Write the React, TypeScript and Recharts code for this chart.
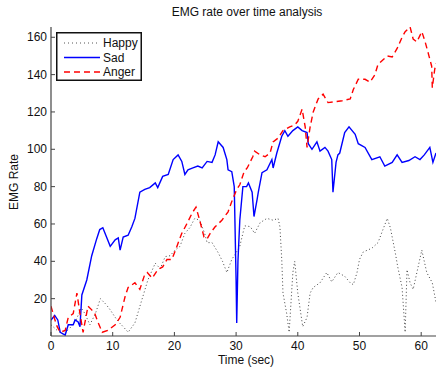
import { LineChart, Line, XAxis, YAxis } from "recharts";

// Sad (blue solid)
const sadTime = [0, 0.6, 1.1, 1.5, 2.3, 2.8, 3.6, 3.9, 4.4, 4.7, 5.0, 5.8, 6.6, 7.4, 7.9, 8.4, 9.0, 9.6, 10.4, 10.9, 11.2, 11.7, 12.5, 13.1, 13.6, 14.4, 15.2, 16.0, 16.9, 17.3, 18.1, 19.0, 19.8, 20.6, 21.2, 21.7, 22.2, 23.0, 23.8, 24.5, 25.3, 26.1, 26.6, 27.1, 27.9, 28.5, 28.7, 29.3, 29.7, 30.0, 30.1, 30.3, 30.6, 31.1, 31.7, 32.0, 32.6, 32.9, 33.4, 33.6, 34.2, 35.0, 35.8, 36.0, 36.6, 37.4, 37.9, 38.4, 39.2, 40.0, 40.7, 41.5, 41.7, 42.3, 43.1, 43.6, 44.4, 44.9, 45.5, 45.7, 46.2, 46.5, 46.8, 47.6, 48.3, 49.3, 49.8, 50.9, 52.0, 53.3, 54.1, 55.3, 56.1, 56.9, 58.0, 59.0, 59.8, 60.5, 61.4, 61.9, 62.4];
const sadValues = [8.5, 11, 8.6, 2, 0.5, 6, 6, 8.6, 7.5, 5, 22, 30, 43, 52, 57, 58, 53, 48, 51.5, 52.5, 46, 53, 54, 58.5, 63, 77, 78.5, 79.5, 82, 79.5, 85.5, 86.5, 94.5, 97, 93.5, 86.5, 89, 90, 91, 90, 93.5, 93, 97, 104, 101, 94.5, 89, 88, 80, 30, 7, 40, 62, 80, 80, 82, 77, 64, 73, 77, 87.5, 89, 94.5, 90, 98, 107, 110, 107, 110, 112, 110, 109, 103, 100, 104, 99, 101, 99, 94.5, 77, 93, 97, 98, 109, 112, 108, 103, 101, 94.5, 96, 91, 93, 97, 93, 94, 96, 94.5, 97, 101, 93, 98];

// Happy (dotted)
const happyTime = [0, 1, 2, 3, 4, 4.9, 5.5, 6.3, 7.2, 8.0, 8.9, 9.6, 10.4, 11.1, 11.7, 12.5, 13.6, 14.6, 15.7, 16.9, 17.7, 18.5, 19.3, 20.1, 20.9, 21.7, 22.5, 23.3, 24.1, 24.9, 25.3, 26.1, 27.1, 27.8, 28.5, 29.3, 29.8, 30.6, 31.1, 31.4, 32.3, 33.0, 33.9, 35.0, 36.0, 36.8, 37.1, 37.4, 37.6, 38.2, 38.6, 39.2, 39.5, 40.0, 40.8, 41.5, 42.0, 42.5, 43.6, 44.7, 45.5, 46.5, 47.6, 48.5, 49.0, 49.6, 50.0, 50.6, 52.0, 53.0, 53.8, 54.5, 55.0, 55.8, 56.2, 56.9, 57.4, 57.7, 58.2, 58.7, 59.5, 60.1, 60.9, 61.8, 62.4];
const happyValues = [6, 3, 1, 4, 8, 15, 12, 6, 12, 20, 17, 14, 10, 7, 5, 2, 7, 18, 30, 39, 36, 42.5, 43, 46, 48, 55, 58, 63, 62, 55, 50, 50, 44.6, 40, 34, 41, 43.5, 48, 55, 59, 58.6, 55, 60.7, 63, 62, 63, 58.6, 41, 23, 12, 2, 34, 40, 23, 5, 10, 23, 26, 28.5, 34, 29, 34, 32, 28.5, 27.5, 34, 41, 45, 47, 50, 57, 63, 58, 44.6, 37, 26, 2, 35.5, 28.5, 25, 37, 46, 34, 28.5, 18];

// Anger (red dashed)
const angerTime = [0, 0.5, 1.0, 1.5, 2.3, 2.8, 3.6, 4.2, 4.7, 5.2, 6.0, 6.6, 7.1, 7.6, 8.3, 9.2, 10.4, 11.2, 12.0, 12.5, 13.6, 14.4, 15.2, 15.6, 16.4, 17.3, 18.1, 18.8, 19.6, 20.4, 21.2, 22.0, 22.9, 23.5, 24.1, 24.8, 25.3, 25.8, 26.6, 27.7, 28.7, 29.3, 30.1, 30.6, 31.3, 31.8, 32.7, 33.0, 33.9, 34.7, 35.5, 36.0, 36.8, 37.6, 38.7, 39.5, 40.0, 40.7, 41.2, 41.5, 42.0, 42.5, 43.3, 44.1, 44.9, 46.0, 47.2, 48.5, 49.0, 49.8, 50.9, 51.7, 52.5, 53.0, 54.5, 55.3, 56.1, 56.9, 57.4, 58.2, 58.7, 59.3, 60.1, 60.6, 61.1, 61.7, 61.8, 62.2, 62.4];
const angerValues = [16, 10, 5, 2, 3, 10, 12, 23, 12, 2, 16, 14, 12, 7.5, 2, 3, 6, 10, 21, 26, 28.5, 25, 33, 34, 31, 35.5, 37, 41, 41, 48, 55, 60, 66, 69, 62, 53, 52, 55, 58.5, 62, 66.5, 72, 78.5, 81, 88, 90, 96, 99, 97, 96, 98, 104, 106, 110, 112, 113, 115, 121.5, 112, 101, 112, 120, 127, 129.5, 125, 125.5, 126, 127, 132, 137.5, 137.5, 136, 140, 145.5, 150, 149.5, 154, 160, 163, 165.5, 159, 157.5, 163, 158, 152, 144.5, 133, 143, 146];

const xTicks = [0, 10, 20, 30, 40, 50, 60];
const yTicks = [20, 40, 60, 80, 100, 120, 140, 160];

const zip = (t: number[], v: number[]) => t.map((time, i) => ({ time, value: v[i] }));
const sadData = zip(sadTime, sadValues);
const happyData = zip(happyTime, happyValues);
const angerData = zip(angerTime, angerValues);

const FONT = "'Liberation Sans', Arial, sans-serif";

const YTick = ({ x, y, payload }: any) => (
    <g>
        <line x1={x} x2={x + 4} y1={y} y2={y} stroke="#444" />
        <text x={x - 4} y={y} dy={4} textAnchor="end" fontSize={12} fontFamily={FONT} fill="#111">
            {payload.value}
        </text>
    </g>
);

const XTick = ({ x, y, payload }: any) => (
    <g>
        <line x1={x} x2={x} y1={y} y2={y - 4} stroke="#444" />
        <text x={x} y={y} dy={14} textAnchor="middle" fontSize={12} fontFamily={FONT} fill="#111">
            {payload.value}
        </text>
    </g>
);

const legendItems = [
    { name: "Happy", color: "#555", dash: "1 3", width: 1 },
    { name: "Sad", color: "#0000ff", dash: undefined, width: 1.4 },
    { name: "Anger", color: "#ff0000", dash: "6 4", width: 1.4 },
];

export default function App() {
    return (
        <div style={{ position: "absolute", left: 0, top: 0, width: 436, height: 368, background: "#fff" }}>
            <LineChart width={436} height={368} margin={{ top: 27, right: 0, bottom: 0, left: 0 }}>
                <XAxis
                    dataKey="time"
                    type="number"
                    domain={[0, 62.4]}
                    ticks={xTicks}
                    height={32}
                    tickSize={0}
                    tickMargin={0}
                    tick={<XTick />}
                    tickLine={false}
                    axisLine={{ stroke: "#444", strokeWidth: 1.2 }}
                    allowDataOverflow
                />
                <YAxis
                    type="number"
                    domain={[0, 165.5]}
                    ticks={yTicks}
                    width={51}
                    tickSize={0}
                    tickMargin={0}
                    tick={<YTick />}
                    tickLine={false}
                    axisLine={{ stroke: "#444", strokeWidth: 1.2 }}
                    allowDataOverflow
                />
                <Line data={happyData} dataKey="value" name="Happy" stroke="#444" strokeWidth={1} strokeDasharray="1 2.5" dot={false} isAnimationActive={false} />
                <Line data={sadData} dataKey="value" name="Sad" stroke="#0000ff" strokeWidth={1.4} dot={false} isAnimationActive={false} />
                <Line data={angerData} dataKey="value" name="Anger" stroke="#ff0000" strokeWidth={1.4} strokeDasharray="6 4" dot={false} isAnimationActive={false} />
            </LineChart>
            <svg width={436} height={368} style={{ position: "absolute", left: 0, top: 0, pointerEvents: "none" }}>
                <text x={247} y={16} textAnchor="middle" fontSize={12} fontFamily={FONT} fill="#111">
                    EMG rate over time analysis
                </text>
                <text x={246} y={364} textAnchor="middle" fontSize={12} fontFamily={FONT} fill="#111">
                    Time (sec)
                </text>
                <text x={18} y={182} textAnchor="middle" fontSize={12} fontFamily={FONT} fill="#111" transform="rotate(-90 18 182)">
                    EMG Rate
                </text>
                <g transform="translate(56 32)">
                    <rect x={0.75} y={0.75} width={84.5} height={47.5} fill="#fff" stroke="#111" strokeWidth={1.5} />
                    {legendItems.map((it, i) => (
                        <g key={it.name}>
                            <line x1={8} x2={44} y1={11 + i * 14.5} y2={11 + i * 14.5} stroke={it.color} strokeWidth={it.width} strokeDasharray={it.dash} />
                            <text x={47} y={11 + i * 14.5} dy={4} fontSize={12} fontFamily={FONT} fill="#111">
                                {it.name}
                            </text>
                        </g>
                    ))}
                </g>
            </svg>
        </div>
    );
}
